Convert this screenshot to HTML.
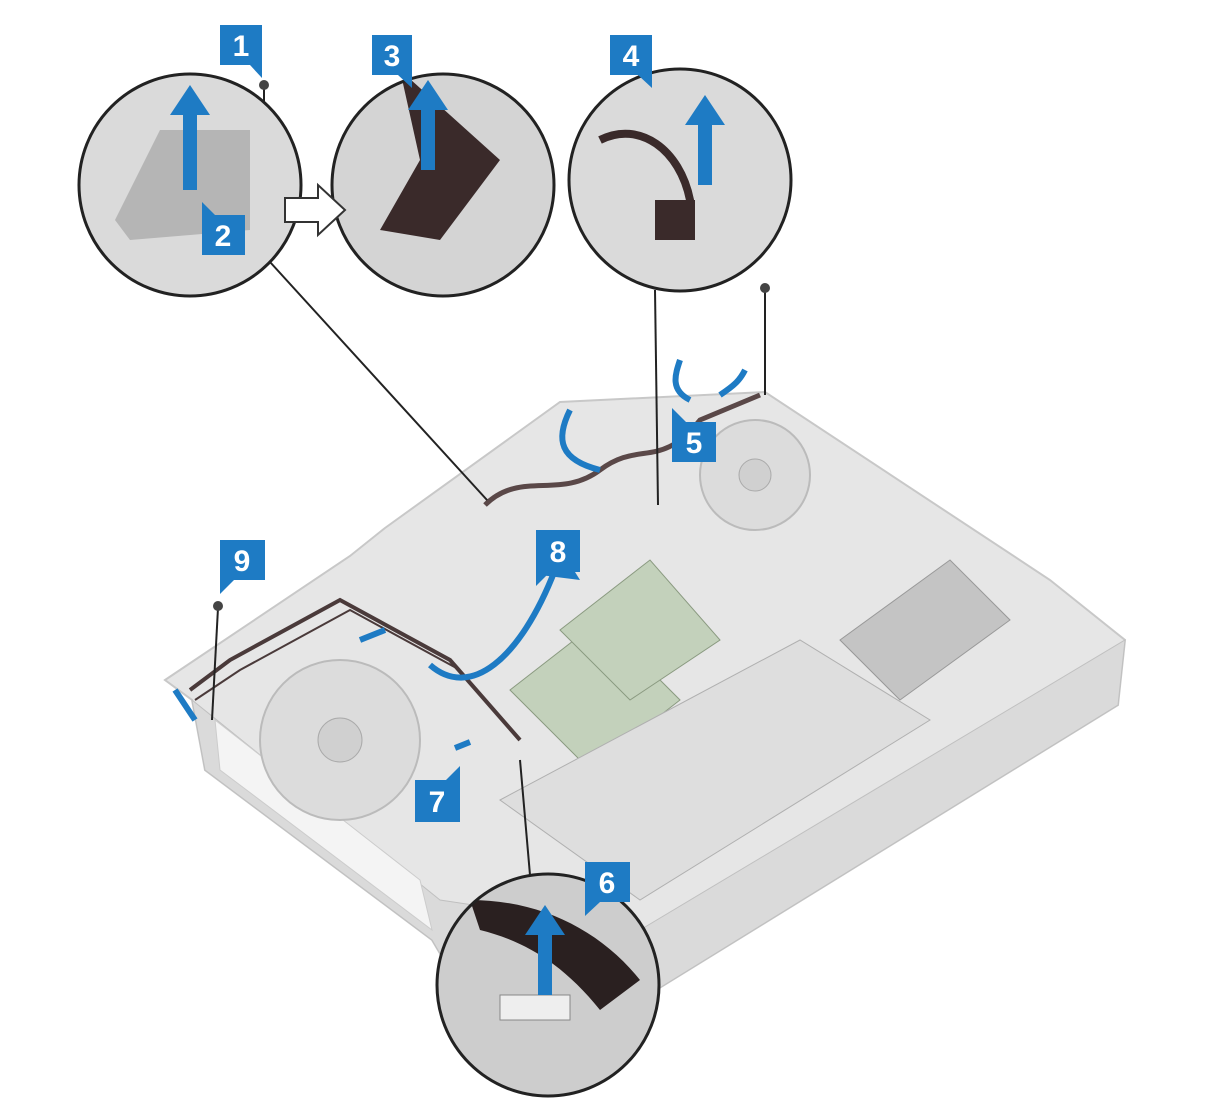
<!DOCTYPE html>
<html><head><meta charset="utf-8"><style>
html,body{margin:0;padding:0;background:#fff;}
svg{display:block}
text{font-family:"Liberation Sans",sans-serif;font-weight:bold;}
</style></head><body>
<svg width="1216" height="1108" viewBox="0 0 1216 1108" xmlns="http://www.w3.org/2000/svg">
<defs>
<clipPath id="c1"><circle cx="190" cy="185" r="111"/></clipPath>
<clipPath id="c3"><circle cx="443" cy="185" r="111"/></clipPath>
<clipPath id="c4"><circle cx="680" cy="180" r="111"/></clipPath>
<clipPath id="c6"><circle cx="548" cy="985" r="111"/></clipPath>
</defs>
<polygon points="165,680 350,556 385,528 560,402 765,392 1050,580 1125,640 1118,705 640,1000 445,962 432,940 205,770 192,700" fill="#e6e6e6" stroke="#c8c8c8" stroke-width="2"/>
<polygon points="192,700 205,770 432,940 445,962 640,1000 1118,705 1125,640 640,930 440,900" fill="#dadada" stroke="#c0c0c0"/>
<polygon points="215,720 420,880 432,930 220,770" fill="#f4f4f4" stroke="#ccc"/>
<circle cx="340" cy="740" r="80" fill="#dcdcdc" stroke="#bbb" stroke-width="2"/>
<circle cx="340" cy="740" r="22" fill="#d0d0d0" stroke="#aaa"/>
<circle cx="755" cy="475" r="55" fill="#dcdcdc" stroke="#bbb" stroke-width="2"/>
<circle cx="755" cy="475" r="16" fill="#d0d0d0" stroke="#aaa"/>
<polygon points="510,690 600,620 680,700 590,770" fill="#c3d1bb" stroke="#8a9a80"/>
<polygon points="560,630 650,560 720,640 630,700" fill="#c3d1bb" stroke="#8a9a80"/>
<polygon points="840,640 950,560 1010,620 900,700" fill="#c4c4c4" stroke="#999"/>
<polygon points="500,800 800,640 930,720 640,900" fill="#dedede" stroke="#b0b0b0"/>
<path d="M485,505 C520,470 560,500 600,470 C640,440 660,470 700,420 L760,395" stroke="#5a4848" stroke-width="5" fill="none"/>
<path d="M190,690 L230,660 L340,600 L450,660 L520,740" stroke="#4a3a3a" stroke-width="4" fill="none"/>
<path d="M195,700 L240,670 L350,610 L460,670" stroke="#4a3a3a" stroke-width="2" fill="none"/>
<line x1="270" y1="262" x2="487" y2="500" stroke="#222" stroke-width="2"/>
<line x1="655" y1="290" x2="658" y2="505" stroke="#222" stroke-width="2"/>
<line x1="520" y1="760" x2="530" y2="875" stroke="#222" stroke-width="2"/>
<line x1="264" y1="85" x2="264" y2="145" stroke="#222" stroke-width="2"/>
<line x1="765" y1="290" x2="765" y2="395" stroke="#222" stroke-width="2"/>
<line x1="218" y1="608" x2="212" y2="720" stroke="#222" stroke-width="2"/>
<circle cx="264" cy="85" r="5" fill="#444"/><circle cx="765" cy="288" r="5" fill="#444"/><circle cx="218" cy="606" r="5" fill="#444"/>
<g stroke="#1e7bc4" stroke-width="6" fill="none">
<path d="M430,665 C470,700 520,660 555,570"/>
<path d="M600,470 C560,460 555,440 570,410"/>
<path d="M690,400 C670,390 675,375 680,360"/>
<path d="M720,395 C735,385 740,380 745,370"/>
<path d="M175,690 L195,720"/>
<path d="M360,640 L385,630"/>
<path d="M455,748 L470,742"/>
</g>
<polygon points="555,540 580,580 540,575" fill="#1e7bc4"/>
<g clip-path="url(#c1)"><rect x="70" y="70" width="240" height="240" fill="#dadada"/><polygon points="115,220 160,130 250,130 250,230 130,240" fill="#b5b5b5"/><path d="M190,190 L190,110" stroke="#1e7bc4" stroke-width="14"/><polygon points="170,115 190,85 210,115" fill="#1e7bc4"/></g>
<circle cx="190" cy="185" r="111" fill="none" stroke="#222" stroke-width="3"/>
<g clip-path="url(#c3)"><rect x="330" y="70" width="240" height="240" fill="#d4d4d4"/><path d="M400,70 L420,160 L380,230 L440,240 L500,160" fill="#3a2a2a"/><path d="M428,170 L428,105" stroke="#1e7bc4" stroke-width="14"/><polygon points="408,110 428,80 448,110" fill="#1e7bc4"/></g>
<circle cx="443" cy="185" r="111" fill="none" stroke="#222" stroke-width="3"/>
<g clip-path="url(#c4)"><rect x="568" y="68" width="240" height="240" fill="#dadada"/><path d="M600,140 C640,120 680,150 690,200 L690,240" stroke="#3a2a2a" stroke-width="8" fill="none"/><rect x="655" y="200" width="40" height="40" fill="#3a2a2a"/><path d="M705,185 L705,120" stroke="#1e7bc4" stroke-width="14"/><polygon points="685,125 705,95 725,125" fill="#1e7bc4"/></g>
<circle cx="680" cy="180" r="111" fill="none" stroke="#222" stroke-width="3"/>
<g clip-path="url(#c6)"><rect x="436" y="873" width="224" height="224" fill="#cdcdcd"/><path d="M470,900 C540,900 600,930 640,980 L600,1010 C560,960 520,940 480,930" fill="#2a2020"/><rect x="500" y="995" width="70" height="25" fill="#eee" stroke="#888"/><path d="M545,995 L545,930" stroke="#1e7bc4" stroke-width="14"/><polygon points="525,935 545,905 565,935" fill="#1e7bc4"/></g>
<circle cx="548" cy="985" r="111" fill="none" stroke="#222" stroke-width="3"/>
<polygon points="285,198 318,198 318,185 345,210 318,235 318,222 285,222" fill="#fff" stroke="#333" stroke-width="2"/>
<g fill="#1e7bc4">
<rect x="220" y="25" width="42" height="40"/><polygon points="250,65 262,65 262,78"/>
<rect x="202" y="215" width="43" height="40"/><polygon points="202,215 215,215 202,202"/>
<rect x="372" y="35" width="40" height="40"/><polygon points="398,75 412,75 412,88"/>
<rect x="610" y="35" width="42" height="40"/><polygon points="638,75 652,75 652,88"/>
<rect x="672" y="422" width="44" height="40"/><polygon points="672,422 686,422 672,408"/>
<rect x="585" y="862" width="45" height="40"/><polygon points="585,902 600,902 585,916"/>
<rect x="415" y="780" width="45" height="42"/><polygon points="446,780 460,780 460,766"/>
<rect x="536" y="530" width="44" height="42"/><polygon points="536,572 550,572 536,586"/>
<rect x="220" y="540" width="45" height="40"/><polygon points="220,580 234,580 220,594"/>
</g>
<g fill="#fff" font-size="30" text-anchor="middle">
<text x="241" y="56">1</text><text x="223" y="246">2</text><text x="392" y="66">3</text>
<text x="631" y="66">4</text><text x="694" y="453">5</text><text x="607" y="893">6</text>
<text x="437" y="812">7</text><text x="558" y="562">8</text><text x="242" y="571">9</text>
</g>
</svg>
</body></html>
